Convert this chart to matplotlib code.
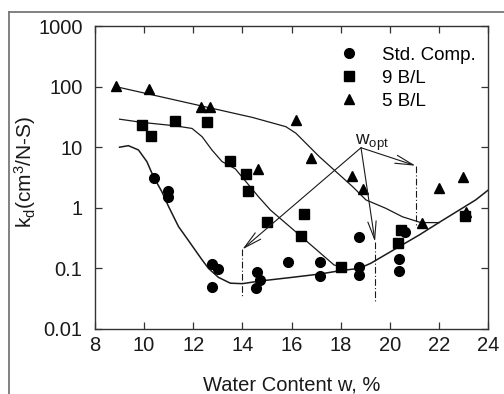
import matplotlib
matplotlib.use("Agg")
import matplotlib.pyplot as plt
from matplotlib.lines import Line2D

plt.rcParams['font.family'] = ['Liberation Sans', 'DejaVu Sans']
plt.rcParams['mathtext.fontset'] = 'custom'
plt.rcParams['mathtext.rm'] = 'Liberation Sans'
plt.rcParams['mathtext.it'] = 'Liberation Sans'

# ---- data ----
std_w = [10.4, 10.96, 10.96, 12.76, 13.0, 12.76, 14.6, 14.73, 14.57, 15.87, 17.16, 17.16,
         18.75, 18.75, 18.75, 20.63, 20.39, 20.39]
std_k = [3.14, 1.91, 1.52, 0.12, 0.098, 0.05, 0.088, 0.065, 0.048, 0.126, 0.126, 0.076,
         0.33, 0.107, 0.078, 0.40, 0.141, 0.091]

bl9_w = [9.9, 10.27, 11.24, 12.55, 13.5, 14.15, 14.22, 15.0, 16.5, 16.37, 18.0, 20.45, 20.35, 23.08]
bl9_k = [23.2, 15.5, 27.0, 26.3, 5.9, 3.57, 1.89, 0.575, 0.79, 0.343, 0.107, 0.43, 0.26, 0.73]

bl5_w = [8.84, 10.2, 12.33, 12.67, 16.17, 16.8, 14.64, 18.45, 18.91, 22.01, 23.0, 21.3, 23.1]
bl5_k = [104, 91, 46.6, 46.6, 28, 6.7, 4.4, 3.4, 2.04, 2.15, 3.26, 0.57, 0.86]

# fitted curves
std_curve_w = [9.0, 9.36, 9.77, 10.11, 10.38, 10.72, 11.0, 11.4, 11.75, 12.08, 12.35, 12.62,
               13.03, 13.51, 14.0, 14.73, 16.0, 17.18, 18.0, 18.75, 19.22, 20.38, 21.2,
               22.0, 23.5, 24.0]
std_curve_k = [10.0, 10.6, 9.0, 5.8, 3.26, 1.85, 1.04, 0.49, 0.31, 0.20, 0.14, 0.10,
               0.071, 0.057, 0.056, 0.062, 0.071, 0.081, 0.092, 0.10, 0.121, 0.228, 0.356,
               0.57, 1.35, 1.95]

bl9_curve_w = [9.0, 9.9, 11.24, 11.95, 12.36, 12.76, 13.17, 13.71, 14.67, 15.14, 16.37,
               17.73, 18.2]
bl9_curve_k = [29, 25.7, 22.6, 20.4, 14.9, 9.0, 5.8, 4.4, 1.5, 0.92, 0.343, 0.114, 0.102]

bl5_curve_w = [8.84, 14.41, 15.77, 16.18, 17.13, 18.49, 19.03, 19.84, 20.52, 21.27, 22.01]
bl5_curve_k = [100, 31, 21.8, 17, 7.0, 2.23, 1.35, 0.98, 0.71, 0.57, 0.57]

# w_opt annotation
wopt_vertex = (18.83, 9.8)
wopt_targets_w = [14.0, 19.4, 21.05]
wopt_targets_k = [0.206, 0.275, 4.95]
wopt_bottom_k = [0.034, 0.028, 0.49]

labels = ['Std. Comp.', '9 B/L', '5 B/L']
xticks = [8, 10, 12, 14, 16, 18, 20, 22, 24]
yticks = [0.01, 0.1, 1, 10, 100, 1000]
yticklabels = ['0.01', '0.1', '1', '10', '100', '1000']

# ---- figure ----
fig = plt.figure(figsize=(5.04, 3.94), dpi=100)
ax = fig.add_axes([95/504, 1-329/394, 393/504, 303/394])

ink = '#1a1a1a'
ax.plot(std_curve_w, std_curve_k, color=ink, lw=1.1)
ax.plot(bl9_curve_w, bl9_curve_k, color=ink, lw=0.9)
ax.plot(bl5_curve_w, bl5_curve_k, color=ink, lw=0.9)

ms = 7
ax.plot(std_w, std_k, 'o', color='black', ms=ms, ls='none', label=labels[0])
ax.plot(bl9_w, bl9_k, 's', color='black', ms=ms - 0.5, ls='none', label=labels[1])
ax.plot(bl5_w, bl5_k, '^', color='black', ms=ms + 0.5, ls='none', label=labels[2])

for tw, tk, bk in zip(wopt_targets_w, wopt_targets_k, wopt_bottom_k):
    ax.annotate('', xy=(tw, tk), xytext=wopt_vertex,
                arrowprops=dict(arrowstyle='->,head_length=1.3,head_width=0.3',
                                color=ink, lw=0.8, shrinkA=0, shrinkB=0,
                                mutation_scale=10))
    ax.plot([tw, tw], [tk, bk], color=ink, lw=0.8, dashes=(6, 2, 1, 2))

ax.text(18.6, 11.0, r'w$_{\mathrm{opt}}$', fontsize=13.5, ha='left', va='baseline',
        color=ink)

ax.set_yscale('log')
ax.set_xlim(8, 24)
ax.set_ylim(0.01, 1000)
ax.set_xticks(xticks)
ax.set_xticklabels([str(t) for t in xticks])
ax.set_yticks(yticks)
ax.set_yticklabels(yticklabels)
ax.minorticks_off()
ax.tick_params(axis='both', direction='in', length=5.3, width=0.9, color='#333333',
               labelsize=14.5, labelcolor=ink, top=True, right=True)
ax.tick_params(axis='x', pad=5)
ax.tick_params(axis='y', pad=9)
for s in ax.spines.values():
    s.set_color('#333333')
    s.set_linewidth(1.0)

ax.set_xlabel('Water Content w, %', fontsize=14.5, color=ink, labelpad=15)
ax.set_ylabel(r'k$_{\mathrm{d}}$(cm$^{3}$/N-S)', fontsize=15, color=ink)
ax.yaxis.set_label_coords(-0.145, 0.518)

ax.legend(loc='upper left', bbox_to_anchor=(0.6216, 0.931), frameon=False,
          fontsize=13.5, handlelength=1.0, handletextpad=1.3, labelspacing=0.31,
          borderpad=0, borderaxespad=0)

# outer frame (left and top edges visible)
fig.add_artist(Line2D([9/504, 9/504], [0, 1-12/394], color='#777777', lw=1.3))
fig.add_artist(Line2D([9/504, 1], [1-12/394, 1-12/394], color='#777777', lw=1.3))

fig.savefig('out.png', dpi=100)
